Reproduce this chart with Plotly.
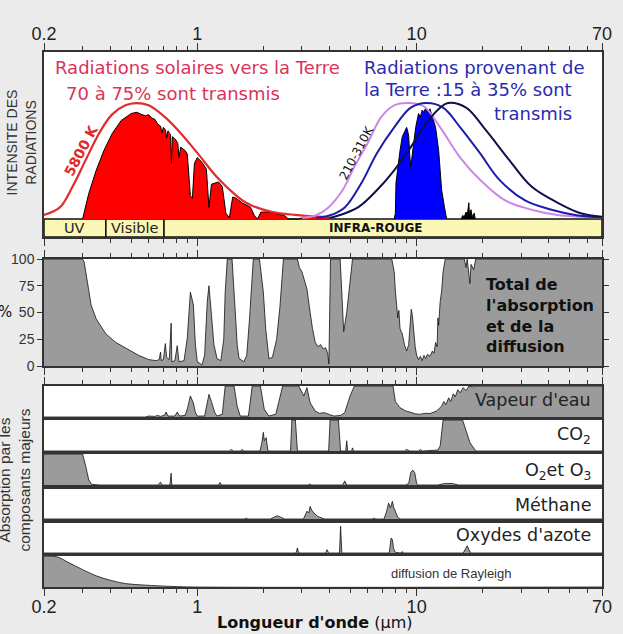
import numpy as np
import plotly.graph_objects as go

# ---------------- DATA ----------------
# Top panel: blackbody envelope of the Sun (5800 K), normalised intensity
sun_bb_wl = [0.2, 0.236, 0.27, 0.31, 0.357, 0.408, 0.47, 0.526, 0.6, 0.71, 0.84, 1.0,
             1.23, 1.51, 1.67, 1.8, 2.2, 2.8, 3.5, 4.0]
sun_bb_int = [0.035, 0.10, 0.28, 0.51, 0.74, 0.90, 0.98, 1.0, 0.98, 0.88, 0.74, 0.57,
              0.36, 0.20, 0.14, 0.11, 0.06, 0.035, 0.02, 0.015]

# Solar radiation transmitted to the ground
sun_tr_wl = [0.30, 0.31, 0.32, 0.346, 0.375, 0.41, 0.45, 0.50, 0.53, 0.56, 0.58, 0.60, 0.62,
             0.64, 0.66, 0.68, 0.69, 0.70, 0.715, 0.725, 0.735, 0.745, 0.755, 0.762, 0.77,
             0.80, 0.815, 0.825, 0.84, 0.88, 0.90, 0.93, 0.95, 0.97, 1.0, 1.05, 1.10, 1.13,
             1.16, 1.25, 1.30, 1.35, 1.40, 1.45, 1.50, 1.60, 1.75, 1.82, 1.88, 1.95, 2.1,
             2.3, 2.5, 2.6, 2.9, 3.1, 3.5, 4.0]
sun_tr_int = [0.0, 0.10, 0.22, 0.42, 0.59, 0.74, 0.85, 0.91, 0.92, 0.90, 0.89, 0.90, 0.87,
              0.86, 0.82, 0.80, 0.74, 0.79, 0.77, 0.70, 0.76, 0.74, 0.73, 0.48, 0.71,
              0.68, 0.65, 0.53, 0.62, 0.59, 0.56, 0.20, 0.18, 0.48, 0.53, 0.49, 0.43, 0.10,
              0.30, 0.32, 0.28, 0.05, 0.01, 0.19, 0.18, 0.14, 0.10, 0.03, 0.0, 0.06, 0.06,
              0.045, 0.03, 0.0, 0.0, 0.02, 0.015, 0.01]

# Earth blackbody curves (210-310 K)
bb310_wl = [3.0, 3.46, 3.96, 4.6, 5.2, 6.0, 6.9, 7.9, 9.2, 10.8, 12.8, 15.8, 19.4, 25.3, 33.4, 44, 70]
bb310_int = [0.01, 0.03, 0.10, 0.25, 0.45, 0.66, 0.88, 0.98, 1.0, 0.97, 0.79, 0.53, 0.34, 0.16, 0.08, 0.035, 0.015]
bb255_wl = [3.5, 4.0, 4.7, 5.6, 6.6, 7.9, 9.4, 11.1, 13.2, 15.8, 19.4, 23.8, 31.2, 41.2, 54.4, 70]
bb255_int = [0.01, 0.03, 0.10, 0.31, 0.57, 0.79, 0.96, 1.0, 0.96, 0.79, 0.57, 0.34, 0.16, 0.08, 0.03, 0.015]
bb210_wl = [4.0, 4.4, 5.4, 6.6, 7.9, 9.4, 11.1, 12.8, 13.9, 16.8, 20.6, 26.4, 33.4, 44, 56, 70]
bb210_int = [0.01, 0.03, 0.10, 0.25, 0.42, 0.62, 0.83, 0.96, 1.0, 0.96, 0.77, 0.51, 0.28, 0.14, 0.05, 0.02]

# Earth radiation transmitted to space
earth_tr_wl = [7.9, 8.0, 8.05, 8.2, 8.4, 8.6, 8.8, 9.0, 9.1, 9.2, 9.3, 9.4, 9.5, 9.6, 9.75, 9.9,
               10.2, 10.4, 10.6, 10.8, 11.0, 11.3, 11.5, 11.7, 12.0, 12.2, 12.6, 13.0, 13.4, 13.7]
earth_tr_int = [0.0, 0.05, 0.31, 0.45, 0.59, 0.71, 0.75, 0.79, 0.76, 0.71, 0.55, 0.45, 0.52, 0.59, 0.70, 0.79,
                0.91, 0.88, 0.94, 0.92, 0.96, 0.92, 0.95, 0.90, 0.85, 0.79, 0.59, 0.25, 0.10, 0.0]
earth_sp_wl = [16.0, 16.2, 16.5, 16.8, 17.0, 17.3, 17.4, 17.7, 17.9, 18.3, 18.5]
earth_sp_int = [0.0, 0.03, 0.02, 0.06, 0.03, 0.14, 0.04, 0.08, 0.02, 0.05, 0.0]

# Spectral bands
band_labels = ["UV", "Visible", "INFRA-ROUGE"]
band_edges = [0.2, 0.383, 0.705, 70]

# Middle panel: total absorption and scattering (%)
total_wl = [0.2, 0.3, 0.305, 0.317, 0.328, 0.346, 0.383, 0.425, 0.486, 0.54, 0.6, 0.65, 0.67, 0.68,
            0.685, 0.70, 0.715, 0.725, 0.745, 0.76, 0.765, 0.79, 0.81, 0.825, 0.87, 0.90, 0.93,
            0.96, 0.98, 1.0, 1.05, 1.08, 1.11, 1.13, 1.16, 1.19, 1.23, 1.28, 1.32, 1.34, 1.37,
            1.44, 1.48, 1.52, 1.55, 1.63, 1.68, 1.73, 1.8, 1.92, 2.0, 2.05, 2.12, 2.2, 2.3, 2.38,
            2.47, 2.86, 2.92, 3.0, 3.1, 3.16, 3.27, 3.35, 3.45, 3.55, 3.65, 3.75, 3.85, 3.93,
            3.98, 4.05, 4.48, 4.58, 4.65, 4.8, 4.97, 5.1, 7.7, 7.9, 8.0, 8.1, 8.2, 8.3, 8.4, 8.6,
            8.8, 9.0, 9.2, 9.35, 9.45, 9.55, 9.7, 9.85, 10.0, 10.2, 10.4, 10.6, 10.8, 11.0, 11.2,
            11.5, 11.8, 12.0, 12.2, 12.4, 12.5, 12.6, 12.8, 13.0, 13.2, 13.5, 16.5, 16.8, 17.0,
            17.3, 17.5, 17.7, 18.2, 18.6, 70]
total_val = [100, 100, 97, 75, 57, 44, 30, 22, 15, 10, 6, 5, 6, 13,
             5, 6, 21, 8, 6, 40, 4, 5, 19, 4, 5, 26, 69,
             57, 20, 4, 1, 10, 60, 75, 48, 20, 7, 5, 25, 69, 100,
             100, 60, 20, 7, 4, 10, 44, 100, 100, 69, 35, 7, 8, 25, 55,
             100, 100, 92, 88, 78, 72, 50, 35, 22, 18, 20, 16, 17, 12,
             2, 100, 100, 60, 32, 50, 78, 100, 100, 88, 70, 60, 45, 52, 35, 30,
             20, 14, 20, 40, 53, 48, 28, 18, 10, 6, 9, 5, 10, 7, 11,
             9, 14, 12, 22, 18, 45, 38, 60, 70, 88, 100, 100, 92, 100,
             88, 77, 95, 90, 100, 100]

# Component panels (%)
h2o_wl = [0.2, 0.58, 0.6, 0.64, 0.66, 0.68, 0.71, 0.72, 0.735, 0.79, 0.81, 0.83, 0.88, 0.9, 0.93,
          0.96, 0.98, 1.0, 1.08, 1.11, 1.13, 1.16, 1.2, 1.23, 1.3, 1.34, 1.47, 1.52, 1.57, 1.71,
          1.78, 1.94, 2.02, 2.12, 2.28, 2.45, 2.9, 3.06, 3.16, 3.27, 3.45, 3.6, 3.8, 4.0, 4.2,
          4.5, 4.7, 4.97, 5.2, 7.8, 8.0, 8.2, 8.4, 8.9, 9.4, 9.9, 10.4, 11.0, 11.5, 12.0, 12.3,
          12.7, 13.0, 13.3, 13.6, 14.0, 14.3, 14.7, 15.0, 15.4, 15.8, 16.3, 16.8, 17.3, 18.0,
          18.5, 70]
h2o_val = [0, 0, 3, 2, 5, 2, 6, 16, 3, 3, 16, 3, 5, 25, 68,
           45, 15, 3, 3, 46, 73, 50, 15, 3, 9, 100, 100, 35, 3, 3,
           100, 100, 25, 3, 9, 100, 100, 68, 95, 46, 19, 12, 14, 8, 3,
           5, 14, 68, 100, 100, 50, 40, 30, 20, 14, 10, 9, 12, 11, 15, 19,
           28, 35, 50, 40, 62, 50, 75, 65, 88, 78, 95, 85, 100, 97,
           100, 100]
co2_wl = [0.2, 1.40, 1.43, 1.46, 1.57, 1.6, 1.63, 1.93, 1.97, 2.0, 2.02, 2.06, 2.1, 2.66, 2.7,
          2.8, 2.86, 3.97, 4.03, 4.4, 4.5, 4.75, 4.8, 4.85, 5.05, 5.1, 5.15, 8.8, 9.0, 9.3,
          10.2, 10.4, 10.6, 12.5, 12.8, 13.2, 16.2, 17.5, 18.6, 70]
co2_val = [0, 0, 5, 0, 0, 5, 0, 0, 27, 60, 33, 43, 0, 0, 100,
           100, 0, 0, 100, 100, 0, 0, 33, 0, 0, 10, 0, 0, 5, 0,
           0, 5, 0, 3, 16, 100, 100, 27, 0, 0]
o3_wl = [0.2, 0.3, 0.31, 0.32, 0.33, 0.36, 0.66, 0.68, 0.69, 0.75, 0.76, 0.765, 1.25, 1.27, 1.29,
         3.2, 3.27, 3.32, 4.6, 4.7, 4.8, 8.9, 9.2, 9.4, 9.6, 9.8, 10.0, 10.2, 12.5, 13.5, 14.5,
         15.5, 70]
o3_val = [100, 100, 60, 16, 2, 0, 0, 9, 0, 0, 38, 0, 0, 8, 0,
          0, 3, 0, 0, 13, 0, 0, 5, 40, 48, 40, 5, 0, 0, 5, 5,
          0, 0]
ch4_wl = [0.2, 1.64, 1.67, 1.7, 2.15, 2.25, 2.32, 2.4, 2.5, 3.05, 3.16, 3.22, 3.27, 3.32, 3.4,
          3.55, 3.7, 3.8, 6.3, 6.4, 6.5, 7.1, 7.3, 7.45, 7.6, 7.75, 7.85, 8.0, 8.2, 8.4, 70]
ch4_val = [0, 0, 3, 0, 0, 8, 11, 6, 0, 0, 26, 20, 42, 30, 20,
           8, 3, 0, 0, 3, 0, 0, 26, 53, 37, 59, 40, 22, 6, 0, 0]
nox_wl = [0.2, 2.82, 2.86, 2.9, 3.85, 3.9, 3.95, 4.0, 4.45, 4.5, 4.56, 7.5, 7.65, 7.75, 7.85,
          8.0, 8.5, 8.6, 8.7, 16.3, 17.0, 17.6, 70]
nox_val = [0, 0, 17, 0, 0, 11, 3, 0, 0, 89, 0, 0, 50, 45, 15,
           2, 0, 5, 0, 0, 24, 0, 0]
ray_wl = [0.2, 0.23, 0.26, 0.3, 0.346, 0.4, 0.47, 0.58, 0.76, 0.97, 70]
ray_val = [100, 97, 78, 56, 36, 22, 11, 6, 2, 0, 0]

components = [
    ("Vapeur d'eau", h2o_wl, h2o_val),
    ("CO<sub>2</sub>", co2_wl, co2_val),
    ("O<sub>2</sub>et O<sub>3</sub>", o3_wl, o3_val),
    ("Méthane", ch4_wl, ch4_val),
    ("Oxydes d'azote", nox_wl, nox_val),
    ("diffusion de Rayleigh", ray_wl, ray_val),
]

major_ticks = [0.2, 1, 10, 70]
major_text = ["0.2", "1", "10", "70"]
minor_ticks = [0.3, 0.4, 0.5, 0.6, 0.7, 0.8, 0.9, 2, 3, 4, 5, 6, 7, 8, 9, 20, 30, 40, 50, 60]

# ---------------- LAYOUT HELPERS ----------------
W, H = 623, 634
L, R, T, B = 44, 612, 52, 587
BG = "#ebebeb"


def px_x(p):
    return (p - L) / (R - L)


def px_y(p):
    return (B - p) / (B - T)


panel_px = [(52, 237), (259, 366), (386, 417), (420, 451), (454, 485),
            (489, 519), (523, 553), (556, 587)]
TOP_YR = [-0.155, 1.44]

BORDER = "#333333"
GRAY = "#9b9b9b"
SUNRED = "#ff0000"
ENVRED = "#e22b2b"
TXTRED = "#dc3258"
TXTBLUE = "#2b2bb0"
FONT = "DejaVu Sans"
TFONT = "Liberation Sans"

fig = go.Figure()


def ax(i):
    return ("x" if i == 0 else f"x{i+1}"), ("y" if i == 0 else f"y{i+1}")


# ---- top panel ----
xa, ya = ax(0)
band_fill = "#faf6b4"
for k in range(len(band_labels)):
    x0, x1 = band_edges[k], band_edges[k + 1]
    fig.add_trace(go.Scatter(x=[x0, x1, x1, x0, x0], y=[TOP_YR[0], TOP_YR[0], 0, 0, TOP_YR[0]],
                             mode="lines", fill="toself", fillcolor=band_fill,
                             line=dict(color="#111", width=1.5), xaxis=xa, yaxis=ya,
                             hoverinfo="skip"))

fig.add_trace(go.Scatter(x=sun_tr_wl, y=sun_tr_int, mode="lines", fill="tozeroy",
                         fillcolor=SUNRED, line=dict(color="black", width=1), xaxis=xa, yaxis=ya))
fig.add_trace(go.Scatter(x=earth_tr_wl, y=earth_tr_int, mode="lines", fill="tozeroy",
                         fillcolor="#0000ff", line=dict(color="black", width=1), xaxis=xa, yaxis=ya))
fig.add_trace(go.Scatter(x=earth_sp_wl, y=earth_sp_int, mode="lines", fill="tozeroy",
                         fillcolor="black", line=dict(color="black", width=1), xaxis=xa, yaxis=ya))
fig.add_trace(go.Scatter(x=sun_bb_wl, y=sun_bb_int, mode="lines", line=dict(color=ENVRED, width=2.2, shape="spline"),
                         xaxis=xa, yaxis=ya))
for wl, it, col in [(bb310_wl, bb310_int, "#cf85e6"), (bb255_wl, bb255_int, "#1c1ca8"),
                    (bb210_wl, bb210_int, "#10104d")]:
    fig.add_trace(go.Scatter(x=wl, y=it, mode="lines", line=dict(color=col, width=2, shape="spline"),
                             xaxis=xa, yaxis=ya))

# ---- middle panel ----
xa, ya = ax(1)
fig.add_trace(go.Scatter(x=total_wl, y=total_val, mode="lines", fill="tozeroy", fillcolor=GRAY,
                         line=dict(color="#111", width=0.8), xaxis=xa, yaxis=ya))

# ---- component panels ----
for k, (name, wl, val) in enumerate(components):
    xa, ya = ax(k + 2)
    shape = "spline" if k == 5 else "linear"
    fig.add_trace(go.Scatter(x=wl, y=val, mode="lines", fill="tozeroy", fillcolor=GRAY,
                             line=dict(color="#111", width=0.8, shape=shape), xaxis=xa, yaxis=ya))

# ---- axes ----
layout = {}
for i, (t, b) in enumerate(panel_px):
    xn = "xaxis" if i == 0 else f"xaxis{i+1}"
    yn = "yaxis" if i == 0 else f"yaxis{i+1}"
    xa_id, ya_id = ax(i)
    xd = dict(type="log", range=[np.log10(0.2), np.log10(70)], domain=[0, 1], anchor=ya_id,
              showline=True, linecolor=BORDER, linewidth=1.5, mirror=True, showgrid=False,
              zeroline=False, tickmode="array", tickvals=major_ticks, ticktext=major_text,
              showticklabels=False, ticks="", tickfont=dict(family=TFONT, size=18, color="#222"),
              minor=dict(tickmode="array", tickvals=minor_ticks, ticks="", showgrid=False),
              fixedrange=True)
    if i > 0:
        xd["matches"] = "x"
    tick_on = dict(ticks="outside", ticklen=7, tickwidth=1.2, tickcolor=BORDER,
                   minor=dict(tickmode="array", tickvals=minor_ticks, ticks="outside", ticklen=4,
                              tickwidth=1, tickcolor=BORDER, showgrid=False))
    if i == 0:
        xd.update(tick_on)
        xd.update(side="top", mirror="ticks", showticklabels=True, ticklabelstandoff=-4)
    elif i == 1:
        xd.update(tick_on)
        xd.update(mirror="ticks")
    elif i == 2:
        xd.update(tick_on)
        xd.update(side="top")
    elif i == 7:
        xd.update(tick_on)
        xd.update(side="bottom", showticklabels=True, ticklabelstandoff=-4)
    yd = dict(domain=[px_y(b), px_y(t)], anchor=xa_id, range=[0, 100], showline=True,
              linecolor=BORDER, linewidth=1.5, mirror=True, showgrid=False, zeroline=False,
              showticklabels=False, ticks="", fixedrange=True)
    if i == 0:
        yd["range"] = TOP_YR
    if i == 1:
        yd.update(ticks="outside", ticklen=5, tickcolor=BORDER, mirror="ticks",
                  tickvals=[0, 25, 50, 75, 100], showticklabels=True,
                  tickfont=dict(family=TFONT, size=14, color="#333"))
    layout[xn] = xd
    layout[yn] = yd

annotations = []


def ann(text, x, y, size, color="#222", xanchor="center", yanchor="middle", angle=0,
        family=FONT, align="left"):
    annotations.append(dict(text=text, x=px_x(x), y=px_y(y), xref="paper", yref="paper",
                            xanchor=xanchor, yanchor=yanchor, showarrow=False, textangle=angle,
                            font=dict(family=family, size=size, color=color), align=align))


# top panel texts
ann("Radiations solaires vers la Terre", 53, 67, 18, TXTRED, xanchor="left")
ann("70 à 75% sont transmis", 64, 93, 18, TXTRED, xanchor="left")
ann("Radiations provenant de", 368, 67, 18, TXTBLUE, xanchor="left")
ann("la Terre :15 à 35% sont", 368, 90, 18, TXTBLUE, xanchor="left")
ann("transmis", 583, 113, 18, TXTBLUE, xanchor="right")
ann("<b>5800 K</b>", 82, 150, 14, "#e02a2a", angle=-62)
ann("210-310K", 362, 153, 12, "#111", angle=-62)
ann("INTENSITE DES<br>RADIATIONS", 21, 142, 14, "#333", angle=-90, family=TFONT, align="center")
# band labels
ann("UV", 75, 228, 14.5, "#222")
ann("Visible", 136, 228, 14.5, "#222")
ann("<b>INFRA-ROUGE</b>", 381, 228, 12, "#111")
# middle panel
ann("<b>Total de<br>l'absorption<br>et de la<br>diffusion</b>", 492, 315, 16, "#111", xanchor="left")
ann("%", 4, 312, 15, "#111")
# component labels
comp_y = [400, 436, 471, 505, 535]
for (name, _, _), yy in zip(components[:5], comp_y):
    ann(name, 603, yy, 17.5, "#222", xanchor="right")
ann("diffusion de Rayleigh", 458, 573, 13, "#333", family=TFONT)
ann("Absorption par les<br>composants majeurs", 13, 480, 15.5, "#333", angle=-90, family=TFONT,
    align="center")
ann("<b>Longueur d'onde</b> (µm)", 320, 622, 16, "#111")

fig.update_layout(
    width=W, height=H,
    margin=dict(l=L, r=W - R, t=T, b=H - B, pad=0),
    paper_bgcolor=BG, plot_bgcolor="white",
    showlegend=False, annotations=annotations,
    **layout,
)

page_fix = ("document.body.style.margin='0';document.body.style.padding='0';"
            "document.body.style.background='" + BG + "';document.body.style.overflow='hidden';")
fig.write_html("out.html", post_script=page_fix, config={"displayModeBar": False})
